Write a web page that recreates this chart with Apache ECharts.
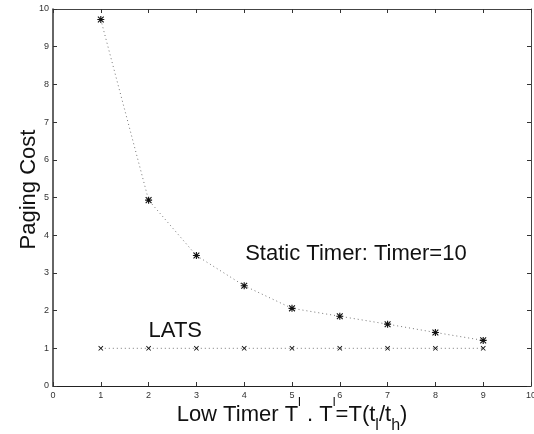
<!DOCTYPE html>
<html>
<head>
<meta charset="utf-8">
<script src="https://cdn.jsdelivr.net/npm/echarts@6/dist/echarts.min.js"></script>
<style>
  html, body { margin: 0; padding: 0; background: #fff; }
  #chart { width: 534px; height: 434px; }
</style>
</head>
<body>
<div id="chart"></div>
<script>
// values
const lowTimer = [1, 2, 3, 4, 5, 6, 7, 8, 9];
const staticCost = [9.72, 4.93, 3.46, 2.66, 2.06, 1.85, 1.64, 1.42, 1.21];
const latsCost = [1, 1, 1, 1, 1, 1, 1, 1, 1];

const staticLabel = 'Static Timer: Timer=10';
const latsLabel = 'LATS';

const FONT = '"Liberation Sans", Arial, Helvetica, sans-serif';

// matlab style markers
const starSymbol = 'path://M4.2 0 L5.8 0 L5.8 10 L4.2 10 Z M0 4.2 L10 4.2 L10 5.8 L0 5.8 Z '
  + 'M1.4 0.3 L9.7 8.6 L8.6 9.7 L0.3 1.4 Z M8.6 0.3 L9.7 1.4 L1.4 9.7 L0.3 8.6 Z';
const crossSymbol = 'path://M1.2 0 L10 8.8 L8.8 10 L0 1.2 Z M8.8 0 L10 1.2 L1.2 10 L0 8.8 Z';

function pairs(xs, ys) {
  return xs.map((x, i) => [x, ys[i]]);
}

const chart = echarts.init(document.getElementById('chart'));

const axisCommon = {
  type: 'value',
  min: 0,
  max: 10,
  interval: 1,
  splitLine: { show: false },
  axisLine: { show: true, onZero: false, lineStyle: { color: '#222', width: 1.2 } },
  axisTick: { show: true, inside: true, length: 4, lineStyle: { color: '#333' } },
};

chart.setOption({
  animation: false,
  backgroundColor: '#fff',
  grid: { left: 53, right: 3, top: 9, bottom: 48, outerBoundsMode: 'none' },
  xAxis: [
    Object.assign({}, axisCommon, {
      position: 'bottom',
      name: 'Low Timer T{sup|l} . T{sup|l}=T(t{sub|l}/t{sub|h})',
      nameLocation: 'middle',
      nameGap: 10,
      nameMoveOverlap: false,
      nameTextStyle: {
        fontFamily: FONT,
        fontSize: 22,
        color: '#111',
        lineHeight: 34,
        verticalAlign: 'top',
        rich: {
          sup: { fontFamily: FONT, fontSize: 13, color: '#111', verticalAlign: 'top', lineHeight: 38 },
          sub: { fontFamily: FONT, fontSize: 16, color: '#111', verticalAlign: 'bottom', lineHeight: 30 },
        },
      },
      axisLabel: { fontFamily: FONT, fontSize: 9, color: '#333', margin: 5 },
    }),
    Object.assign({}, axisCommon, {
      position: 'top',
      axisLine: { show: true, onZero: false, lineStyle: { color: '#444', width: 1 } },
      axisLabel: { show: false },
    }),
  ],
  yAxis: [
    Object.assign({}, axisCommon, {
      position: 'left',
      name: 'Paging Cost',
      nameLocation: 'middle',
      nameGap: 13,
      nameMoveOverlap: false,
      nameTextStyle: {
        fontFamily: FONT,
        fontSize: 22,
        color: '#111',
        padding: [0, 0, 0, 16],
      },
      axisLine: { show: true, onZero: false, lineStyle: { color: '#333', width: 1.5 } },
      axisLabel: { fontFamily: FONT, fontSize: 9, color: '#333', margin: 4 },
    }),
    Object.assign({}, axisCommon, {
      position: 'right',
      axisLine: { show: true, onZero: false, lineStyle: { color: '#444', width: 1 } },
      axisLabel: { show: false },
    }),
  ],
  series: [
    {
      name: staticLabel,
      type: 'line',
      data: pairs(lowTimer, staticCost),
      symbol: starSymbol,
      symbolSize: 7,
      itemStyle: { color: '#111' },
      lineStyle: { color: '#777', width: 1, type: [1, 3] },
      markPoint: {
        symbol: 'rect',
        symbolSize: 0,
        label: {
          show: true,
          formatter: staticLabel,
          fontFamily: FONT,
          fontSize: 22,
          color: '#111',
          align: 'left',
          verticalAlign: 'middle',
        },
        data: [{ coord: [4.02, 3.49] }],
      },
    },
    {
      name: latsLabel,
      type: 'line',
      data: pairs(lowTimer, latsCost),
      symbol: crossSymbol,
      symbolSize: 5,
      itemStyle: { color: '#111' },
      lineStyle: { color: '#777', width: 1, type: [1, 3] },
      markPoint: {
        symbol: 'rect',
        symbolSize: 0,
        label: {
          show: true,
          formatter: latsLabel,
          fontFamily: FONT,
          fontSize: 22,
          color: '#111',
          align: 'left',
          verticalAlign: 'middle',
        },
        data: [{ coord: [2.0, 1.47] }],
      },
    },
  ],
});
</script>
</body>
</html>
